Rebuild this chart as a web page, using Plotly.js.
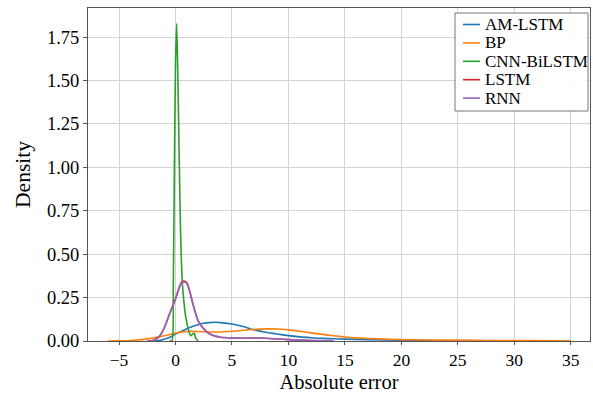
<!DOCTYPE html>
<html>
<head>
<meta charset="utf-8">
<script src="https://cdn.plot.ly/plotly-3.0.1.min.js"></script>
<style>html,body{margin:0;padding:0;background:#fff;}#chart{width:593px;height:393px;}</style>
</head>
<body>
<div id="chart"></div>
<script>
const seriesNames = ["AM-LSTM", "BP", "CNN-BiLSTM", "LSTM", "RNN"];
const seriesColors = ["#1f77b4", "#ff7f0e", "#2ca02c", "#d62728", "#9467bd"];

const amX = [-2,-1.5,-1,-0.5,0,0.5,1,1.5,2,2.5,3,3.5,4,5,6,7,8,9,10,11,12,13,14,15,17,20,23,26,29,31];
const amY = [0,0.002,0.01,0.022,0.04,0.055,0.07,0.083,0.094,0.102,0.106,0.108,0.106,0.098,0.083,0.064,0.05,0.04,0.031,0.024,0.019,0.015,0.013,0.011,0.008,0.005,0.003,0.002,0.001,0];

const bpX = [-6,-5,-4,-3,-2,-1,0,1,2,3,4,5,6,7,8,9,10,11,12,13,14,15,16,18,20,22,25,28,31,35];
const bpY = [0,0.001,0.003,0.008,0.017,0.03,0.045,0.055,0.055,0.052,0.052,0.056,0.062,0.067,0.07,0.069,0.064,0.056,0.047,0.038,0.03,0.023,0.018,0.012,0.008,0.006,0.004,0.003,0.002,0.001];

const cnnX = [-0.5,-0.3,-0.2,-0.1,0,0.1,0.2,0.34,0.45,0.6,0.75,0.9,1.05,1.2,1.35,1.5,1.65,1.8,2.0];
const cnnY = [0,0.005,0.3,1.0,1.6,1.83,1.55,1.0,0.62,0.34,0.22,0.14,0.09,0.05,0.03,0.04,0.045,0.015,0];

const lstmX = [-2.5,-2,-1.5,-1,-0.5,0,0.25,0.5,0.75,1,1.25,1.5,2,2.5,3,3.5,4,5,6,7,8,9,10,11,12,14];
const lstmY = [0,0.003,0.022,0.076,0.162,0.245,0.295,0.335,0.345,0.335,0.29,0.225,0.117,0.07,0.042,0.028,0.022,0.018,0.016,0.017,0.016,0.012,0.008,0.005,0.003,0];

const rnnX = [-2.5,-2,-1.5,-1,-0.5,0,0.25,0.5,0.75,1,1.25,1.5,2,2.5,3,3.5,4,5,6,7,8,9,10,11,12,14];
const rnnY = [0,0.003,0.02,0.075,0.16,0.24,0.29,0.33,0.34,0.33,0.285,0.22,0.115,0.07,0.042,0.028,0.022,0.018,0.016,0.017,0.016,0.012,0.008,0.005,0.003,0];

const xTicks = [-5,0,5,10,15,20,25,30,35];
const yTicks = [0,0.25,0.5,0.75,1.0,1.25,1.5,1.75];

const xs = [amX, bpX, cnnX, lstmX, rnnX];
const ys = [amY, bpY, cnnY, lstmY, rnnY];

const traces = seriesNames.map((n, i) => ({
  type: "scatter", mode: "lines", name: n,
  x: xs[i], y: ys[i], showlegend: false,
  line: {color: seriesColors[i], width: 1.6, shape: "spline", smoothing: 0.6}
}));

const font = "Liberation Serif, Times New Roman, serif";

// legend drawn in paper coordinates (plot area: 502 x 333 px)
const pw = 502, ph = 333;
const px = v => v / pw, py = v => 1 - v / ph;
const shapes = [{
  type: "rect", xref: "paper", yref: "paper",
  x0: px(367), x1: px(500), y0: py(5), y1: py(103),
  fillcolor: "rgba(255,255,255,0.9)", line: {color: "#777", width: 1}, layer: "above"
}];
const annotations = [];
seriesNames.forEach((n, i) => {
  const rowY = 16.5 + 18.4 * i;
  shapes.push({
    type: "line", xref: "paper", yref: "paper",
    x0: px(375), x1: px(392), y0: py(rowY), y1: py(rowY),
    line: {color: seriesColors[i], width: 1.6}, layer: "above"
  });
  annotations.push({
    xref: "paper", yref: "paper", x: px(395), y: py(rowY),
    xanchor: "left", yanchor: "middle", showarrow: false,
    text: n, font: {family: font, size: 17, color: "#000"}
  });
});

const layout = {
  width: 593, height: 393,
  margin: {l: 88, r: 3, t: 8, b: 52},
  paper_bgcolor: "#fff", plot_bgcolor: "#fff",
  font: {family: font, color: "#000", size: 18},
  showlegend: false,
  shapes: shapes,
  annotations: annotations,
  xaxis: {
    range: [-7.75, 36.7], tickvals: xTicks,
    showgrid: true, gridcolor: "#d3d3d3", gridwidth: 1,
    zeroline: false, showline: true, linecolor: "#555", linewidth: 1, mirror: true,
    ticks: "outside", ticklen: 3, tickcolor: "#555",
    tickfont: {family: font, size: 17.5},
    title: {text: "Absolute error", font: {family: font, size: 20.5}, standoff: 5},
    automargin: false
  },
  yaxis: {
    range: [0, 1.918], tickvals: yTicks, tickformat: ".2f",
    showgrid: true, gridcolor: "#d3d3d3", gridwidth: 1,
    zeroline: false, showline: true, linecolor: "#555", linewidth: 1, mirror: true,
    ticks: "outside", ticklen: 4, tickcolor: "#555",
    tickfont: {family: font, size: 18.5},
    title: {text: "Density", font: {family: font, size: 21.5}, standoff: 10},
    automargin: false
  }
};

Plotly.newPlot("chart", traces, layout, {displayModeBar: false, staticPlot: true});
</script>
</body>
</html>
